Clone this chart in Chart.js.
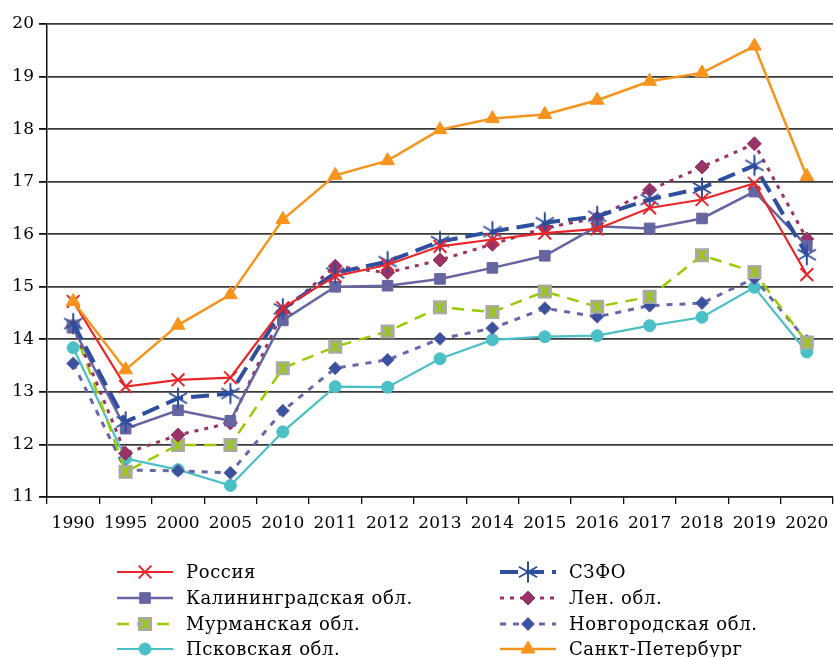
<!DOCTYPE html>
<html>
<head>
<meta charset="utf-8">
<script src="https://cdn.jsdelivr.net/npm/chart.js@4/dist/chart.umd.min.js"></script>
<style>
  html, body { margin: 0; padding: 0; background: #fff; }
  #wrap { width: 834px; height: 657px; position: relative; }
</style>
</head>
<body>
<div id="wrap"><canvas id="c" width="834" height="657"></canvas></div>
<script>
// Categories (years)
const years = ['1990','1995','2000','2005','2010','2011','2012','2013','2014','2015','2016','2017','2018','2019','2020'];

// Series values
const russia      = [14.72, 13.10, 13.23, 13.27, 14.60, 15.20, 15.42, 15.77, 15.90, 16.02, 16.10, 16.50, 16.66, 16.97, 15.23];
const szfo        = [14.30, 12.43, 12.88, 12.97, 14.58, 15.26, 15.48, 15.86, 16.05, 16.22, 16.34, 16.66, 16.88, 17.31, 15.61];
const kaliningrad = [14.22, 12.30, 12.65, 12.45, 14.36, 15.00, 15.02, 15.15, 15.36, 15.59, 16.15, 16.11, 16.30, 16.81, 15.78];
const lenObl      = [14.25, 11.83, 12.18, 12.41, 14.53, 15.39, 15.27, 15.51, 15.81, 16.12, 16.31, 16.84, 17.28, 17.72, 15.91];
const murmansk    = [14.25, 11.48, 11.99, 11.99, 13.45, 13.86, 14.15, 14.61, 14.52, 14.91, 14.62, 14.81, 15.60, 15.28, 13.94];
const novgorod    = [13.54, 11.51, 11.50, 11.46, 12.64, 13.45, 13.61, 14.01, 14.21, 14.59, 14.43, 14.64, 14.69, 15.16, 13.97];
const pskov       = [13.84, 11.73, 11.52, 11.22, 12.24, 13.10, 13.09, 13.63, 13.99, 14.05, 14.07, 14.26, 14.42, 14.99, 13.76];
const spb         = [14.72, 13.42, 14.27, 14.85, 16.28, 17.12, 17.40, 17.99, 18.20, 18.28, 18.55, 18.91, 19.07, 19.58, 17.10];

// Series names
const seriesNames = ['Россия', 'СЗФО', 'Калининградская обл.', 'Лен. обл.', 'Мурманская обл.', 'Новгородская обл.', 'Псковская обл.', 'Санкт-Петербург'];

// Y axis range
const yMin = 11, yMax = 20, yStep = 1;

const FONT = '"DejaVu Serif", "Liberation Serif", serif';

// Six-armed asterisk marker
function makeAsterisk(color) {
  const s = 24, c = document.createElement('canvas');
  c.width = s; c.height = s;
  const g = c.getContext('2d');
  g.strokeStyle = color; g.lineWidth = 2; g.lineCap = 'butt';
  const r = 10.5;
  [90, 30, 150].forEach(a => {
    const t = a * Math.PI / 180;
    g.beginPath();
    g.moveTo(s/2 - r*Math.cos(t), s/2 - r*Math.sin(t));
    g.lineTo(s/2 + r*Math.cos(t), s/2 + r*Math.sin(t));
    g.stroke();
  });
  return c;
}
// Grey square with a green cross
function makeGreySquareX() {
  const s = 16, c = document.createElement('canvas');
  c.width = s; c.height = s;
  const g = c.getContext('2d');
  g.fillStyle = '#a9a9a9';
  g.fillRect(1, 1, 14, 14);
  g.strokeStyle = '#99cc00'; g.lineWidth = 2.4;
  g.beginPath();
  g.moveTo(4, 3); g.lineTo(12, 13);
  g.moveTo(12, 3); g.lineTo(4, 13);
  g.stroke();
  return c;
}

const asterisk = makeAsterisk('#2e4e9e');
const greySquare = makeGreySquareX();

const datasets = [
  { label: seriesNames[0], data: russia, borderColor: '#e8262a', backgroundColor: '#e8262a', borderWidth: 2.2,
    pointStyle: 'crossRot', pointRadius: 9, pointBorderWidth: 2, pointBorderColor: '#e8262a', order: 2 },
  { label: seriesNames[1], data: szfo, borderColor: '#2e4e9e', backgroundColor: '#2e4e9e', borderWidth: 4,
    borderDash: [18, 8], pointStyle: asterisk, pointRadius: 10, order: 3 },
  { label: seriesNames[2], data: kaliningrad, borderColor: '#6565a2', backgroundColor: '#6565a2', borderWidth: 2.5,
    pointStyle: 'rect', pointRadius: 7.5, pointBorderWidth: 1, pointBorderColor: '#6565a2', order: 4 },
  { label: seriesNames[3], data: lenObl, borderColor: '#993366', backgroundColor: '#993366', borderWidth: 3,
    borderDash: [4, 6], pointStyle: 'rectRot', pointRadius: 7, pointBorderWidth: 1, pointBorderColor: '#993366', order: 5 },
  { label: seriesNames[4], data: murmansk, borderColor: '#99cc00', backgroundColor: '#99cc00', borderWidth: 2.5,
    borderDash: [12, 8], pointStyle: greySquare, pointRadius: 8, order: 6 },
  { label: seriesNames[5], data: novgorod, borderColor: '#6666aa', backgroundColor: '#3a519e', borderWidth: 3,
    borderDash: [6, 7], pointStyle: 'rectRot', pointRadius: 6.5, pointBorderWidth: 1, pointBorderColor: '#6666aa', order: 7 },
  { label: seriesNames[6], data: pskov, borderColor: '#4bbfc6', backgroundColor: '#4bbfc6', borderWidth: 2.2,
    pointStyle: 'circle', pointRadius: 6, pointBorderWidth: 1, pointBorderColor: '#4bbfc6', order: 8 },
  { label: seriesNames[7], data: spb, borderColor: '#f7941d', backgroundColor: '#f7941d', borderWidth: 2.5,
    pointStyle: 'triangle', pointRadius: 8, pointBorderWidth: 1, pointBorderColor: '#f7941d', order: 1 }
];
datasets.forEach(d => { d.fill = false; d.tension = 0; d.pointHoverRadius = d.pointRadius; d.clip = false; });

// Two-column legend drawn below the plot
const legendPlugin = {
  id: 'twoColLegend',
  afterDraw(chart) {
    const ctx = chart.ctx;
    const colX = [117, 500];
    const rowY = [572, 598, 624, 649];
    const lineLen = 56;
    ctx.save();
    chart.data.datasets.forEach((ds, i) => {
      const col = i % 2, row = Math.floor(i / 2);
      const x0 = colX[col], y = rowY[row];
      ctx.save();
      ctx.strokeStyle = ds.borderColor;
      ctx.lineWidth = ds.borderWidth;
      ctx.setLineDash(ds.borderDash || []);
      ctx.beginPath();
      ctx.moveTo(x0, y); ctx.lineTo(x0 + lineLen, y);
      ctx.stroke();
      ctx.restore();
      ctx.save();
      ctx.fillStyle = ds.backgroundColor;
      ctx.strokeStyle = ds.pointBorderColor || ds.borderColor;
      ctx.lineWidth = ds.pointBorderWidth || 2;
      Chart.helpers.drawPoint(ctx, {
        pointStyle: ds.pointStyle, rotation: 0,
        radius: ds.pointRadius, borderWidth: ds.pointBorderWidth || 2
      }, x0 + lineLen / 2, y);
      ctx.restore();
      ctx.save();
      ctx.fillStyle = '#000';
      ctx.font = '18px ' + FONT;
      if ('letterSpacing' in ctx) ctx.letterSpacing = '0.6px';
      ctx.textAlign = 'left';
      ctx.textBaseline = 'middle';
      ctx.fillText(ds.label, x0 + 69, y + 1);
      ctx.restore();
    });
    ctx.restore();
  }
};

new Chart(document.getElementById('c'), {
  type: 'line',
  data: { labels: years, datasets },
  plugins: [legendPlugin],
  options: {
    responsive: false,
    animation: false,
    events: [],
    layout: { autoPadding: false, padding: { top: 24, right: 1, bottom: 120, left: 0 } },
    plugins: { legend: { display: false }, tooltip: { enabled: false } },
    scales: {
      x: {
        offset: true,
        grid: { display: true, offset: true, drawOnChartArea: false, drawTicks: true, tickLength: 7, color: '#111', lineWidth: 1.3 },
        border: { display: true, color: '#222', width: 1.5 },
        ticks: { color: '#000', font: { family: FONT, size: 17 }, padding: 9, maxRotation: 0, autoSkip: false },
        afterFit(scale) { scale.height = 40; scale.paddingLeft = 0; scale.paddingRight = 0; }
      },
      y: {
        min: yMin, max: yMax,
        grid: { color: '#3a3a3a', lineWidth: 1.8, drawTicks: true, tickLength: 8, tickColor: '#111' },
        border: { display: true, color: '#111', width: 1.5 },
        ticks: { stepSize: yStep, color: '#000', font: { family: FONT, size: 17 }, padding: 5 },
        afterFit(scale) { scale.width = 47; }
      }
    }
  }
});
</script>
</body>
</html>
